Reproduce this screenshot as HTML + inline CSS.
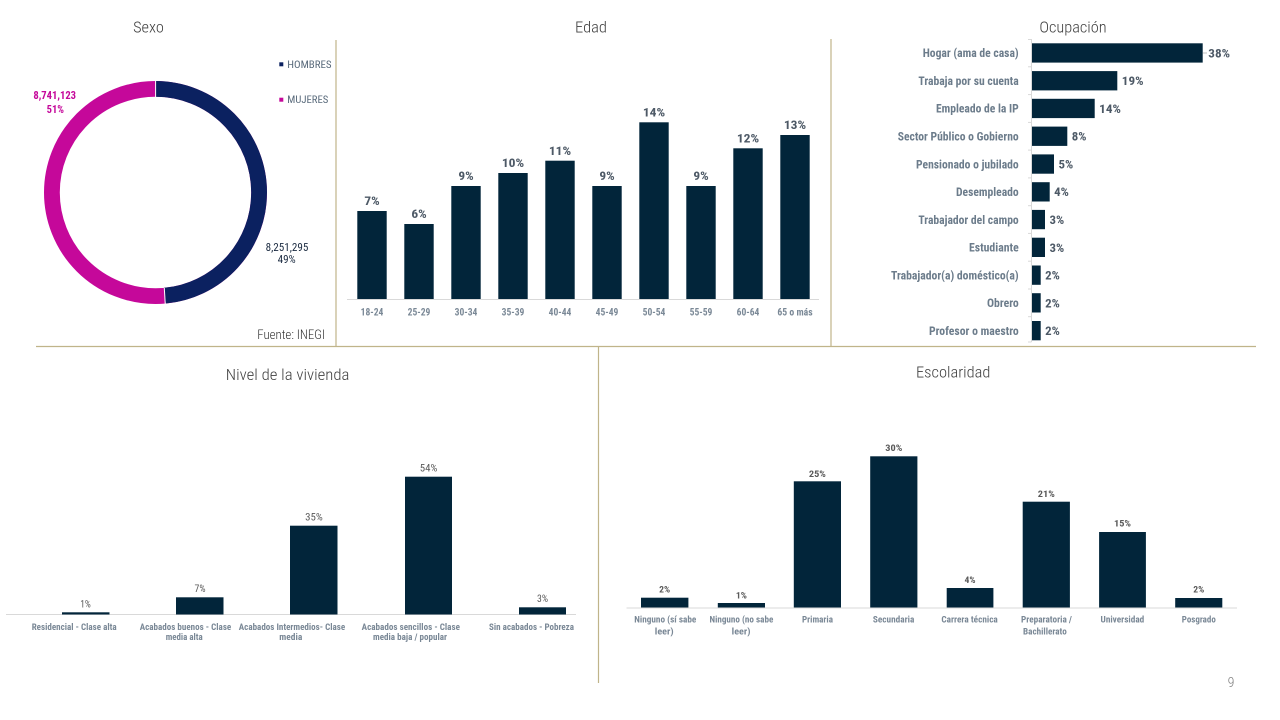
<!DOCTYPE html>
<html><head><meta charset="utf-8"><style>
html,body{margin:0;padding:0;background:#fff;}
svg{display:block;}
text{font-family:"Roboto Condensed","Liberation Sans Narrow","Liberation Sans",sans-serif;}
.t{fill:#404040;font-size:16px;font-weight:300;}
.ol{fill:#6c7c8b;font-size:12px;font-weight:bold;text-anchor:end;}
.ov{fill:#4d5966;font-size:12px;font-weight:bold;}
.ev{fill:#4d5966;font-size:12px;font-weight:bold;text-anchor:middle;}
.ec{fill:#7a8896;font-size:10px;font-weight:bold;text-anchor:middle;}
.nv{fill:#595959;font-size:10px;text-anchor:middle;}
.nc{fill:#7a8896;font-size:9.5px;font-weight:bold;text-anchor:middle;}
.sv{fill:#595959;font-size:9.5px;font-weight:bold;text-anchor:middle;}
.sc{fill:#7a8896;font-size:9.5px;font-weight:bold;text-anchor:middle;}
</style></head><body>
<svg width="1280" height="720" viewBox="0 0 1280 720" xmlns="http://www.w3.org/2000/svg">
<rect width="1280" height="720" fill="#fff"/>
<!-- dividers -->
<g stroke="#c0b48a" stroke-width="1.2" fill="none">
<line x1="336" y1="40" x2="336" y2="346"/>
<line x1="831" y1="39" x2="831" y2="346"/>
<line x1="36" y1="346.5" x2="1256" y2="346.5"/>
<line x1="598.5" y1="346" x2="598.5" y2="683"/>
</g>

<!-- Titles -->
<text class="t" x="148.5" y="32.5" text-anchor="middle" textLength="30.7" lengthAdjust="spacingAndGlyphs">Sexo</text>
<text class="t" x="591" y="32.5" text-anchor="middle" textLength="32" lengthAdjust="spacingAndGlyphs">Edad</text>
<text class="t" x="1073" y="32.5" text-anchor="middle" textLength="67.3" lengthAdjust="spacingAndGlyphs">Ocupación</text>
<text class="t" x="287.6" y="380" text-anchor="middle" textLength="123.6" lengthAdjust="spacingAndGlyphs">Nivel de la vivienda</text>
<text class="t" x="953.2" y="377.3" text-anchor="middle" textLength="74.4" lengthAdjust="spacingAndGlyphs">Escolaridad</text>

<!-- Sexo donut -->
<g transform="rotate(-90 155.5 192.5)">
<circle cx="155.5" cy="192.5" r="103.6" fill="none" stroke="#c5089a" stroke-width="15.8"/>
<circle cx="155.5" cy="192.5" r="103.6" fill="none" stroke="#0b2160" stroke-width="15.8" stroke-dasharray="315.8 700"/>
</g>
<line x1="155.6" y1="80" x2="155.6" y2="97.5" stroke="#fff" stroke-width="1"/>
<line x1="164.3" y1="288" x2="165.3" y2="305" stroke="#fff" stroke-width="1"/>
<text x="54.7" y="99" fill="#c5089a" font-size="11" font-weight="bold" text-anchor="middle" textLength="42.7" lengthAdjust="spacingAndGlyphs">8,741,123</text>
<text x="55.3" y="113" fill="#c5089a" font-size="11" font-weight="bold" text-anchor="middle" textLength="17.3" lengthAdjust="spacingAndGlyphs">51%</text>
<text x="287" y="251.2" fill="#1a2a40" font-size="11" text-anchor="middle" textLength="42.7" lengthAdjust="spacingAndGlyphs">8,251,295</text>
<text x="286.7" y="263.2" fill="#1a2a40" font-size="11" text-anchor="middle" textLength="18" lengthAdjust="spacingAndGlyphs">49%</text>
<rect x="279.3" y="62.3" width="4" height="4" fill="#0b2160"/>
<text x="287.3" y="68" fill="#596a7b" font-size="10" textLength="44.3" lengthAdjust="spacingAndGlyphs">HOMBRES</text>
<rect x="279.3" y="97.7" width="4" height="4" fill="#c5089a"/>
<text x="287.3" y="103" fill="#596a7b" font-size="10" textLength="41" lengthAdjust="spacingAndGlyphs">MUJERES</text>
<text x="257.3" y="338.8" fill="#333" font-size="12.5" font-weight="300" textLength="67.7" lengthAdjust="spacingAndGlyphs">Fuente: INEGI</text>

<!-- Edad -->
<line x1="347" y1="299.5" x2="819" y2="299.5" stroke="#d9d9d9" stroke-width="1"/>
<g fill="#02253a">
<rect x="357.3" y="211" width="29.4" height="88"/>
<rect x="404.3" y="224" width="29.4" height="75"/>
<rect x="451.3" y="186" width="29.4" height="113"/>
<rect x="498.3" y="173" width="29.4" height="126"/>
<rect x="545.3" y="160.7" width="29.4" height="138.3"/>
<rect x="592.3" y="186" width="29.4" height="113"/>
<rect x="639.3" y="122.3" width="29.4" height="176.7"/>
<rect x="686.3" y="186" width="29.4" height="113"/>
<rect x="733.3" y="148.3" width="29.4" height="150.7"/>
<rect x="780.3" y="135" width="29.4" height="164"/>
</g>
<text class="ev" x="372" y="205.2" textLength="15.3" lengthAdjust="spacingAndGlyphs">7%</text>
<text class="ev" x="419" y="218.2" textLength="15.3" lengthAdjust="spacingAndGlyphs">6%</text>
<text class="ev" x="466" y="180.2" textLength="15.3" lengthAdjust="spacingAndGlyphs">9%</text>
<text class="ev" x="513" y="167.2" textLength="22.3" lengthAdjust="spacingAndGlyphs">10%</text>
<text class="ev" x="560" y="154.9" textLength="22.3" lengthAdjust="spacingAndGlyphs">11%</text>
<text class="ev" x="607" y="180.2" textLength="15.3" lengthAdjust="spacingAndGlyphs">9%</text>
<text class="ev" x="654" y="116.5" textLength="22.3" lengthAdjust="spacingAndGlyphs">14%</text>
<text class="ev" x="701" y="180.2" textLength="15.3" lengthAdjust="spacingAndGlyphs">9%</text>
<text class="ev" x="748" y="142.5" textLength="22.3" lengthAdjust="spacingAndGlyphs">12%</text>
<text class="ev" x="795" y="129.2" textLength="22.3" lengthAdjust="spacingAndGlyphs">13%</text>
<text class="ec" x="372" y="315.5" textLength="22.7" lengthAdjust="spacingAndGlyphs">18-24</text>
<text class="ec" x="419" y="315.5" textLength="22.7" lengthAdjust="spacingAndGlyphs">25-29</text>
<text class="ec" x="466" y="315.5" textLength="22.7" lengthAdjust="spacingAndGlyphs">30-34</text>
<text class="ec" x="513" y="315.5" textLength="22.7" lengthAdjust="spacingAndGlyphs">35-39</text>
<text class="ec" x="560" y="315.5" textLength="22.7" lengthAdjust="spacingAndGlyphs">40-44</text>
<text class="ec" x="607" y="315.5" textLength="22.7" lengthAdjust="spacingAndGlyphs">45-49</text>
<text class="ec" x="654" y="315.5" textLength="22.7" lengthAdjust="spacingAndGlyphs">50-54</text>
<text class="ec" x="701" y="315.5" textLength="22.7" lengthAdjust="spacingAndGlyphs">55-59</text>
<text class="ec" x="748" y="315.5" textLength="22.7" lengthAdjust="spacingAndGlyphs">60-64</text>
<text class="ec" x="795" y="315.5" textLength="35.3" lengthAdjust="spacingAndGlyphs">65 o más</text>

<!-- Ocupación -->
<line x1="1031.5" y1="39" x2="1031.5" y2="342" stroke="#d9d9d9" stroke-width="1"/>
<g stroke="#d9d9d9" stroke-width="1">
<line x1="1028" y1="39.5" x2="1031.5" y2="39.5"/>
<line x1="1028" y1="66.8" x2="1031.5" y2="66.8"/>
<line x1="1028" y1="94.6" x2="1031.5" y2="94.6"/>
<line x1="1028" y1="122.4" x2="1031.5" y2="122.4"/>
<line x1="1028" y1="150.1" x2="1031.5" y2="150.1"/>
<line x1="1028" y1="177.9" x2="1031.5" y2="177.9"/>
<line x1="1028" y1="205.7" x2="1031.5" y2="205.7"/>
<line x1="1028" y1="233.4" x2="1031.5" y2="233.4"/>
<line x1="1028" y1="261.2" x2="1031.5" y2="261.2"/>
<line x1="1028" y1="289" x2="1031.5" y2="289"/>
<line x1="1028" y1="316.7" x2="1031.5" y2="316.7"/>
<line x1="1028" y1="342" x2="1031.5" y2="342"/>
</g>
<g fill="#02253a">
<rect x="1032" y="43.3" width="170.7" height="19.3"/>
<rect x="1032" y="71.1" width="85.3" height="19.3"/>
<rect x="1032" y="98.8" width="62.7" height="19.3"/>
<rect x="1032" y="126.6" width="35.3" height="19.3"/>
<rect x="1032" y="154.4" width="22" height="19.3"/>
<rect x="1032" y="182.2" width="17.7" height="19.3"/>
<rect x="1032" y="209.9" width="13" height="19.3"/>
<rect x="1032" y="237.7" width="13" height="19.3"/>
<rect x="1032" y="265.5" width="8.7" height="19.3"/>
<rect x="1032" y="293.2" width="8.7" height="19.3"/>
<rect x="1032" y="321" width="8.7" height="19.3"/>
</g>
<line x1="1203" y1="53" x2="1207" y2="53" stroke="#bfbfbf" stroke-width="1"/>
<text class="ol" x="1018.7" y="57.2" textLength="96" lengthAdjust="spacingAndGlyphs">Hogar (ama de casa)</text>
<text class="ol" x="1018.7" y="85" textLength="100.3" lengthAdjust="spacingAndGlyphs">Trabaja por su cuenta</text>
<text class="ol" x="1018.7" y="112.7" textLength="82.7" lengthAdjust="spacingAndGlyphs">Empleado de la IP</text>
<text class="ol" x="1018.7" y="140.5" textLength="121" lengthAdjust="spacingAndGlyphs">Sector Público o Gobierno</text>
<text class="ol" x="1018.7" y="168.3" textLength="102.7" lengthAdjust="spacingAndGlyphs">Pensionado o jubilado</text>
<text class="ol" x="1018.7" y="196" textLength="62.7" lengthAdjust="spacingAndGlyphs">Desempleado</text>
<text class="ol" x="1018.7" y="223.8" textLength="100.3" lengthAdjust="spacingAndGlyphs">Trabajador del campo</text>
<text class="ol" x="1018.7" y="251.6" textLength="49.7" lengthAdjust="spacingAndGlyphs">Estudiante</text>
<text class="ol" x="1018.7" y="279.4" textLength="127.7" lengthAdjust="spacingAndGlyphs">Trabajador(a) doméstico(a)</text>
<text class="ol" x="1018.7" y="307.1" textLength="31.7" lengthAdjust="spacingAndGlyphs">Obrero</text>
<text class="ol" x="1018.7" y="334.9" textLength="89.7" lengthAdjust="spacingAndGlyphs">Profesor o maestro</text>
<text class="ov" x="1208.3" y="57.4" textLength="21.7" lengthAdjust="spacingAndGlyphs">38%</text>
<text class="ov" x="1121.8" y="85.2" textLength="21.7" lengthAdjust="spacingAndGlyphs">19%</text>
<text class="ov" x="1099.2" y="112.9" textLength="21.7" lengthAdjust="spacingAndGlyphs">14%</text>
<text class="ov" x="1071.8" y="140.7" textLength="14.7" lengthAdjust="spacingAndGlyphs">8%</text>
<text class="ov" x="1058.5" y="168.5" textLength="14.7" lengthAdjust="spacingAndGlyphs">5%</text>
<text class="ov" x="1054.2" y="196.2" textLength="14.7" lengthAdjust="spacingAndGlyphs">4%</text>
<text class="ov" x="1049.5" y="224" textLength="14.7" lengthAdjust="spacingAndGlyphs">3%</text>
<text class="ov" x="1049.5" y="251.8" textLength="14.7" lengthAdjust="spacingAndGlyphs">3%</text>
<text class="ov" x="1045.2" y="279.6" textLength="14.7" lengthAdjust="spacingAndGlyphs">2%</text>
<text class="ov" x="1045.2" y="307.3" textLength="14.7" lengthAdjust="spacingAndGlyphs">2%</text>
<text class="ov" x="1045.2" y="335.1" textLength="14.7" lengthAdjust="spacingAndGlyphs">2%</text>

<!-- Nivel de la vivienda -->
<line x1="6" y1="614.5" x2="576" y2="614.5" stroke="#d9d9d9" stroke-width="1"/>
<g fill="#02253a">
<rect x="62" y="612.3" width="47.5" height="2.2"/>
<rect x="176" y="597.3" width="47.5" height="17.2"/>
<rect x="290" y="525.7" width="47.5" height="88.8"/>
<rect x="405" y="476.7" width="47" height="137.8"/>
<rect x="519" y="607.3" width="47" height="7.2"/>
</g>
<text class="nv" x="85.5" y="607.5" textLength="10.5" lengthAdjust="spacingAndGlyphs">1%</text>
<text class="nv" x="200" y="592.2" textLength="11" lengthAdjust="spacingAndGlyphs">7%</text>
<text class="nv" x="314" y="520.5" textLength="17.6" lengthAdjust="spacingAndGlyphs">35%</text>
<text class="nv" x="428.6" y="471.5" textLength="17.6" lengthAdjust="spacingAndGlyphs">54%</text>
<text class="nv" x="542.5" y="602.2" textLength="11" lengthAdjust="spacingAndGlyphs">3%</text>
<text class="nc" x="74.2" y="630" textLength="85" lengthAdjust="spacingAndGlyphs">Residencial - Clase alta</text>
<text class="nc" x="185.5" y="630" textLength="91.5" lengthAdjust="spacingAndGlyphs">Acabados buenos - Clase</text>
<text class="nc" x="184.2" y="640" textLength="37" lengthAdjust="spacingAndGlyphs">media alta</text>
<text class="nc" x="292" y="630" textLength="106.4" lengthAdjust="spacingAndGlyphs">Acabados Intermedios- Clase</text>
<text class="nc" x="290.8" y="640" textLength="23" lengthAdjust="spacingAndGlyphs">media</text>
<text class="nc" x="410.8" y="630" textLength="98.3" lengthAdjust="spacingAndGlyphs">Acabados sencillos - Clase</text>
<text class="nc" x="410" y="640" textLength="74" lengthAdjust="spacingAndGlyphs">media baja / popular</text>
<text class="nc" x="531.5" y="630" textLength="85" lengthAdjust="spacingAndGlyphs">Sin acabados - Pobreza</text>

<!-- Escolaridad -->
<line x1="626.5" y1="608" x2="1237" y2="608" stroke="#d9d9d9" stroke-width="1"/>
<g fill="#02253a">
<rect x="641" y="597.7" width="47.4" height="9.8"/>
<rect x="717.8" y="603" width="47.2" height="4.5"/>
<rect x="793.8" y="481.3" width="47.2" height="126.2"/>
<rect x="870.2" y="456.3" width="47.2" height="151.2"/>
<rect x="946.7" y="588" width="46.7" height="19.5"/>
<rect x="1022.7" y="501.7" width="47.2" height="105.8"/>
<rect x="1099.1" y="532" width="46.8" height="75.5"/>
<rect x="1175.2" y="598" width="47.1" height="9.5"/>
</g>
<text class="sv" x="664.7" y="592.6" textLength="11" lengthAdjust="spacingAndGlyphs">2%</text>
<text class="sv" x="741.4" y="598.3" textLength="11" lengthAdjust="spacingAndGlyphs">1%</text>
<text class="sv" x="817.4" y="477" textLength="17" lengthAdjust="spacingAndGlyphs">25%</text>
<text class="sv" x="893.8" y="451" textLength="17" lengthAdjust="spacingAndGlyphs">30%</text>
<text class="sv" x="970" y="583" textLength="11" lengthAdjust="spacingAndGlyphs">4%</text>
<text class="sv" x="1046.3" y="497" textLength="17" lengthAdjust="spacingAndGlyphs">21%</text>
<text class="sv" x="1122.5" y="526.6" textLength="17" lengthAdjust="spacingAndGlyphs">15%</text>
<text class="sv" x="1198.8" y="592.6" textLength="11" lengthAdjust="spacingAndGlyphs">2%</text>
<text class="sc" x="665.3" y="622.6" textLength="62" lengthAdjust="spacingAndGlyphs">Ninguno (sí sabe</text>
<text class="sc" x="664.2" y="634.3" textLength="18.8" lengthAdjust="spacingAndGlyphs">leer)</text>
<text class="sc" x="741.4" y="622.6" textLength="63.8" lengthAdjust="spacingAndGlyphs">Ninguno (no sabe</text>
<text class="sc" x="741.1" y="634.3" textLength="18.8" lengthAdjust="spacingAndGlyphs">leer)</text>
<text class="sc" x="817.5" y="622.6" textLength="31" lengthAdjust="spacingAndGlyphs">Primaria</text>
<text class="sc" x="893.6" y="622.6" textLength="41.5" lengthAdjust="spacingAndGlyphs">Secundaria</text>
<text class="sc" x="969.6" y="622.6" textLength="56.4" lengthAdjust="spacingAndGlyphs">Carrera técnica</text>
<text class="sc" x="1046.5" y="622.6" textLength="51" lengthAdjust="spacingAndGlyphs">Preparatoria /</text>
<text class="sc" x="1044.9" y="634.3" textLength="43.7" lengthAdjust="spacingAndGlyphs">Bachillerato</text>
<text class="sc" x="1122.4" y="622.6" textLength="43.7" lengthAdjust="spacingAndGlyphs">Universidad</text>
<text class="sc" x="1198.8" y="622.6" textLength="34" lengthAdjust="spacingAndGlyphs">Posgrado</text>

<text x="1231" y="687" fill="#7f7f7f" font-size="14" font-weight="300" text-anchor="middle">9</text>
</svg>
</body></html>
